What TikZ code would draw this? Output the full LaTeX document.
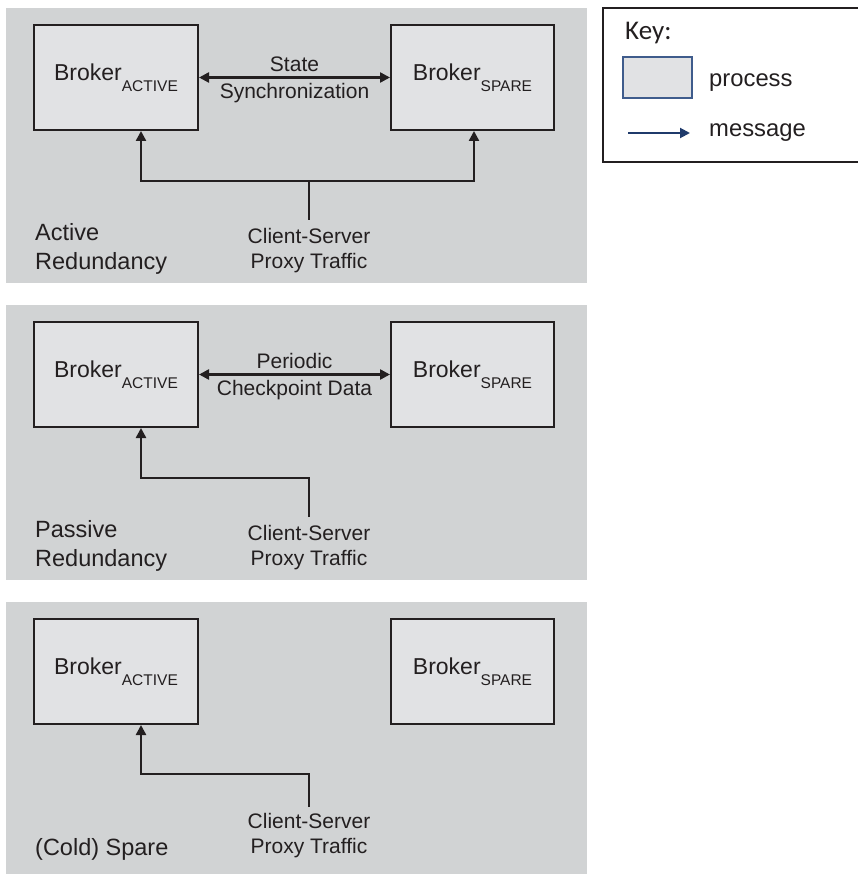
\documentclass[tikz,border=0pt]{standalone}
\usepackage{fontspec}
\setmainfont{Liberation Sans}
\newfontfamily\keyfont{Carlito}
\usetikzlibrary{arrows.meta}

\definecolor{panelgray}{HTML}{D1D3D4}
\definecolor{boxgray}{HTML}{E1E2E4}
\definecolor{linec}{HTML}{231F20}
\definecolor{keyblue}{HTML}{1F3A6B}
\definecolor{keyrect}{HTML}{3F5C8C}

% broker label with lowered subscript
\newcommand{\brk}[1]{\fontsize{23}{26}\selectfont Broker\raisebox{-11pt}{\fontsize{15.5}{18}\selectfont #1}}

\tikzset{
  panel/.style={fill=panelgray,draw=none},
  box/.style={draw=linec,fill=boxgray,line width=2pt,minimum width=164pt,minimum height=105pt,inner sep=0pt,text=linec},
  msg/.style={draw=linec,line width=2.4pt,-{Triangle[length=10pt,width=10pt]}},
  dmsg/.style={draw=linec,line width=2.4pt,{Triangle[length=10pt,width=10pt]}-{Triangle[length=10pt,width=10pt]}},
  mid/.style={font=\fontsize{21}{25}\selectfont,inner sep=5pt,text=linec},
  traffic/.style={font=\fontsize{21}{25}\selectfont,align=center,anchor=north,inner sep=0pt,text=linec},
  side/.style={font=\fontsize{23.5}{29}\selectfont,align=left,anchor=north west,inner sep=0pt,text=linec},
  keytext/.style={font=\fontsize{23.8}{28}\selectfont,anchor=base west,inner sep=0pt,text=linec}
}

\begin{document}
\begin{tikzpicture}[x=1pt,y=-1pt]
        \useasboundingbox (0,0) rectangle (857,874);

        % panels
        \fill[panel] (6,8) rectangle (587,283);
        \fill[panel] (6,305) rectangle (587,580);
        \fill[panel] (6,602) rectangle (587,874);

        % active redundancy
        \draw (116,77.5) node[box] (act1) {\brk{ACTIVE}};
        \draw (472.5,77.5) node[box,minimum width=163pt] (spr1) {\brk{SPARE}};
        \draw[dmsg] (act1) -- (spr1) node[mid,above,pos=.5] {State}
        node[mid,below,pos=.5] {Synchronization};
        \draw (309,228) node[traffic] (cs1) {Client-Server\\Proxy Traffic};
        \draw[msg] ([yshift=8pt]cs1.north) -- ++(0,-39) -| ([xshift=25pt]act1.south);
        \draw[msg] ([yshift=8pt]cs1.north) -- ++(0,-39) -| ([xshift=1.5pt]spr1.south);
        \draw (35,223) node[side] (lbl1) {Active\\Redundancy};

        % passive redundancy
        \draw (116,374.5) node[box] (act2) {\brk{ACTIVE}};
        \draw (472.5,374.5) node[box,minimum width=163pt] (spr2) {\brk{SPARE}};
        \draw[dmsg] (act2) -- (spr2) node[mid,above,pos=.5] {Periodic}
        node[mid,below,pos=.5] {Checkpoint Data};
        \draw (309,525) node[traffic] (cs2) {Client-Server\\Proxy Traffic};
        \draw[msg] ([yshift=8pt]cs2.north) -- ++(0,-39) -| ([xshift=25pt]act2.south);
        \draw (35,520) node[side] (lbl2) {Passive\\Redundancy};

        % cold spare
        \draw (116,671.5) node[box] (act3) {\brk{ACTIVE}};
        \draw (472.5,671.5) node[box,minimum width=163pt] (spr3) {\brk{SPARE}};
        \draw (309,813) node[traffic] (cs3) {Client-Server\\Proxy Traffic};
        \draw[msg] ([yshift=6pt]cs3.north) -- ++(0,-33) -| ([xshift=25pt]act3.south);
        \draw (35,838) node[side] (lbl3) {(Cold) Spare};

        % key
        \draw[linec,line width=1.6pt] (860,8) -- (603,8) -- (603,162) -- (860,162);
        \draw (625,40) node[anchor=base west,inner sep=0pt,text=linec,font=\keyfont\fontsize{27}{30}\selectfont] (key) {Key:};
        \draw (657.5,77.5) node[draw=keyrect,fill=boxgray,line width=1.3pt,minimum width=69pt,minimum height=41pt] (proc) {};
        \draw (709,87) node[keytext] (proclbl) {process};
        \coordinate (m0) at (628,133);
        \coordinate (m1) at (690,133);
        \draw[keyblue,line width=2pt,-{Triangle[length=10pt,width=10pt]}] (m0) -- (m1);
        \draw (709,137) node[keytext] (msglbl) {message};
\end{tikzpicture}
\end{document}
